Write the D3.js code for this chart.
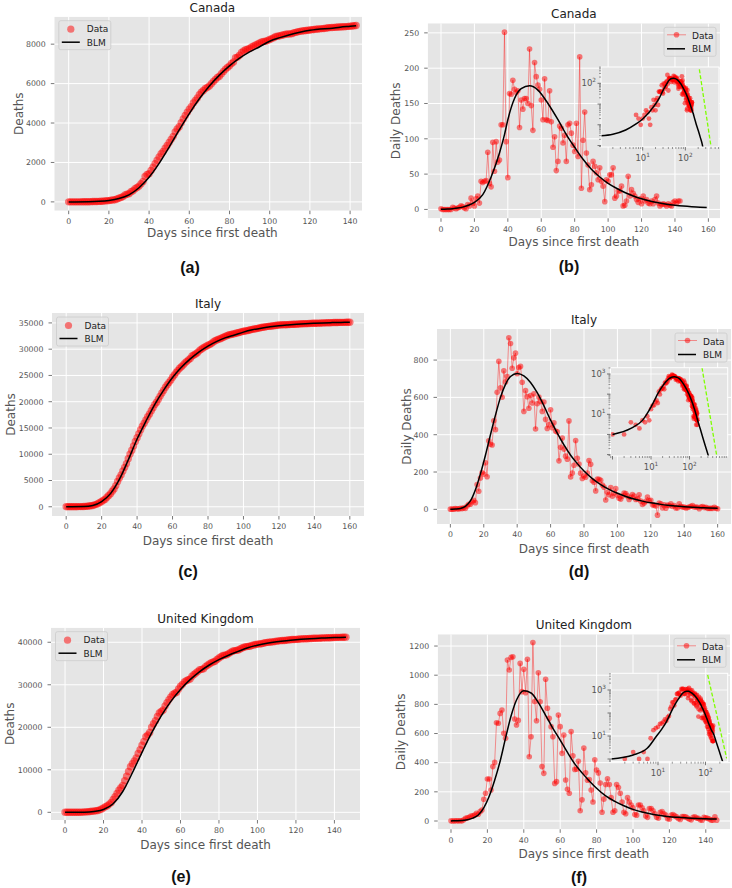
<!DOCTYPE html>
<html>
<head>
<meta charset="utf-8">
<script src="https://cdn.jsdelivr.net/npm/d3@7"></script>
<style>
  body { margin: 0; background: #fff; }
  svg { display: block; font-family: "DejaVu Sans", sans-serif; }
</style>
</head>
<body>
<script>
// ---- daily deaths, one value per day since first death ----
const canadaDaily = [1,0,0,0,0,0,0,3,2,1,
  2,3,5,4,2,1,7,5,16,9,
  5,15,19,9,40,38,40,41,81,37,
  32,95,54,96,67,70,120,120,251,96,
  45,164,163,183,170,166,168,116,155,142,
  157,157,150,227,147,112,208,188,176,170,
  155,127,185,127,126,168,124,88,103,55,
  68,118,115,94,105,68,120,122,108,91,
  82,122,75,216,30,98,138,80,63,28,
  35,68,61,52,42,59,40,33,11,42,
  40,49,49,59,16,19,26,26,33,5,
  6,12,47,19,28,23,19,14,10,15,
  8,19,12,14,9,8,12,8,14,19,
  9,5,7,8,7,5,8,6,5,10,12,9,12,12];

const italyDaily = [1,1,1,4,3,2,5,4,8,5,
  18,27,28,41,49,36,133,97,168,196,
  189,250,175,368,349,345,475,427,627,793,
  651,601,743,683,712,919,889,756,812,837,
  727,760,766,681,525,636,604,542,610,570,
  619,431,566,602,578,525,575,482,433,454,
  534,437,464,420,415,260,333,382,323,285,
  269,474,174,195,236,369,274,243,194,165,
  179,172,195,262,242,153,145,99,162,161,
  156,130,119,50,92,78,117,70,87,111,
  75,60,55,71,88,85,72,53,65,79,
  71,53,56,78,44,26,34,43,66,47,
  49,24,23,18,-31,34,30,8,24,6,
  23,21,30,15,21,7,8,30,15,12,
  12,7,9,13,17,20,11,13,11,3,
  13,15,9,11,5,5,5,5,11,6,
  3];

const ukDaily = [1,0,1,2,1,2,1,8,18,22,
  25,34,35,41,53,46,64,75,149,190,
  288,288,213,373,402,674,670,738,761,601,
  567,1104,1036,1122,1127,700,658,690,1081,887,
  1040,880,1109,441,578,1224,820,688,1017,818,
  373,327,972,773,704,647,578,258,270,727,
  647,464,590,281,217,190,613,448,354,355,
  410,70,145,500,331,280,285,213,130,420,
  350,330,260,60,150,250,290,250,160,60,
  70,250,230,190,130,60,50,160,130,110,
  90,45,40,110,110,90,70,35,25,85,
  85,70,50,25,20,60,65,50,40,15,
  12,40,45,35,28,15,10,30,30,28,
  20,12,8,25,28,20,18,8,6,25,
  22,18,14,6,6,28,6];

// ---- BLM fit as [day, value] ----
const canadaFitDaily = [[0,0.2],[1,0.29],[2,0.35],[4,0.56],[7,1.1],[10,1.9],[13,3.3],[16,5.5],[20,10],[25,21],
  [30,46],[35,80],[38,106],[40,127],[44,157],[48,171],[53,175],[58,169],[64,150],[70,127],[75,106],[80,88],
  [85,71],[90,57],[95,46],[100,37],[105,30],[110,24],[115,19],[120,15],[125,12],[130,9.5],[135,7.5],
  [140,6],[145,4.8],[150,3.9],[155,3.2],[159,2.6]];
const canadaFitTail = [[175,1.3],[200,0.54],[225,0.24],[250,0.11],[280,0.025]];
const canadaFitCum = [[0,0],[10,10],[15,30],[20,75],[25,170],[30,360],[35,720],[40,1250],[45,1950],[50,2780],
  [55,3650],[60,4480],[65,5230],[70,5880],[75,6430],[80,6900],[85,7290],[90,7610],[95,7870],[100,8150],
  [105,8330],[110,8480],[115,8600],[120,8700],[125,8770],[130,8790],[135,8860],[140,8910],[143,8940]];

const italyFitDaily = [[0,0.8],[1,1],[3,2],[6,5],[9,16],[12,45],[15,105],[18,190],[21,290],[24,400],[27,505],
  [30,600],[33,670],[36,712],[40,728],[44,715],[48,680],[52,625],[56,555],[60,478],[64,408],[68,345],
  [72,290],[76,245],[80,205],[85,165],[90,133],[95,107],[100,86],[105,69],[110,55],[115,44],[120,35],
  [125,28],[130,22],[135,18],[140,14],[145,11],[150,9],[155,7],[160,5.5]];
const italyFitTail = [[190,1.9],[230,0.55],[270,0.2],[320,0.07]];
const italyFitCum = [[0,0],[10,40],[15,250],[20,1000],[25,2500],[30,5200],[35,8900],[40,12900],[45,16300],
  [50,19500],[55,22200],[60,24600],[65,26550],[70,28150],[75,29500],[80,30600],[85,31500],[90,32200],
  [95,32700],[100,33250],[105,33680],[110,34000],[115,34250],[120,34450],[125,34600],[130,34730],
  [135,34840],[140,34930],[145,35000],[150,35060],[155,35100],[160,35130]];

const ukFitDaily = [[0,0.3],[1,1],[3,1.5],[6,3],[9,9],[12,20],[15,41],[18,90],[21,170],[24,280],[27,410],
  [30,570],[33,720],[36,830],[40,893],[44,878],[48,812],[52,725],[56,635],[60,555],[64,470],[68,392],
  [72,330],[76,275],[80,225],[85,172],[90,135],[95,105],[100,80],[105,62],[110,48],[115,38],[120,30],
  [125,25],[130,20],[135,17],[140,15],[146,13]];
const ukFitTail = [[170,5.1],[200,1.84],[230,0.76],[260,0.35]];
const ukFitCum = [[0,0],[10,40],[15,200],[20,650],[25,2000],[30,4900],[35,9300],[40,14100],[45,18700],
  [50,22700],[55,26100],[60,28900],[65,31200],[70,33100],[75,34650],[80,35900],[85,36950],[90,37850],
  [95,38700],[100,39300],[105,39750],[110,40100],[115,40380],[120,40600],[125,40780],[130,40910],
  [135,41010],[140,41100],[146,41180]];

// green dashed guide in the log-log insets, [day, value] end points
const canadaGuide = [[213,473],[400,0.088]];
const italyGuide = [[211,2050],[508,0.089]];
const ukGuide = [[111,4500],[279,1.07]];

// ---- tick values ----
const xTicks140 = [0,20,40,60,80,100,120,140];
const xTicks160 = [0,20,40,60,80,100,120,140,160];
const canadaCumTicks = [0,2000,4000,6000,8000];
const canadaDailyTicks = [0,50,100,150,200,250];
const italyCumTicks = [0,5000,10000,15000,20000,25000,30000,35000];
const italyDailyTicks = [0,200,400,600,800];
const ukCumTicks = [0,10000,20000,30000,40000];
const ukDailyTicks = [0,200,400,600,800,1000,1200];
const insetXTicks = [10,100];

const BG = '#E5E5E5', TXT = '#555555', RED = '#ff0000';

//  ----- layout: one entry per panel -----
const panels = [
  {id:'a', type:'cum', title:'Canada', letter:'(a)', daily:canadaDaily, fit:canadaFitCum,
   box:[54.3,370.5,16.7,210.7], clipX:362, xd:[-7.15,150.15], yd:[-447,9393],
   xt:xTicks140, yt:canadaCumTicks, ylab:'Deaths', ylabX:23, xlabY:236.5, letterPos:[190,273]},
  {id:'b', type:'daily', title:'Canada', letter:'(b)', daily:canadaDaily, fit:canadaFitDaily,
   tail:canadaFitTail, guide:canadaGuide,
   box:[427.7,720,23.3,218.3], xd:[-7.95,166.95], yd:[-12.55,263.55],
   xt:xTicks160, yt:canadaDailyTicks, ylab:'Daily Deaths', ylabX:399.5, xlabY:246, letterPos:[569,272],
   inset:{box:[601,719,67,147], xd:[1.055,615], yd:[0.085,611], yLab:[100]}},
  {id:'c', type:'cum', title:'Italy', letter:'(c)', daily:italyDaily, fit:italyFitCum,
   box:[52,364,313,516], xd:[-8,168], yd:[-1756,36888],
   xt:xTicks160, yt:italyCumTicks, ylab:'Deaths', ylabX:15, xlabY:545, letterPos:[188,577]},
  {id:'d', type:'daily', title:'Italy', letter:'(d)', daily:italyDaily, fit:italyFitDaily,
   tail:italyFitTail, guide:italyGuide,
   box:[437,731,329,524], xd:[-8,168], yd:[-78.5,966.5],
   xt:xTicks160, yt:italyDailyTicks, ylab:'Daily Deaths', ylabX:410.5, xlabY:552.5, letterPos:[579,577],
   inset:{box:[610.5,727.7,367.7,456], xd:[0.887,981], yd:[0.0853,2053], yLab:[1000,10]}},
  {id:'e', type:'cum', title:'United Kingdom', letter:'(e)', daily:ukDaily, fit:ukFitCum,
   box:[51,360,627.7,820], xd:[-7.3,153.3], yd:[-1805,43423],
   xt:xTicks140, yt:ukCumTicks, ylab:'Deaths', ylabX:13.5, xlabY:849, letterPos:[181,882]},
  {id:'f', type:'daily', title:'United Kingdom', letter:'(f)', daily:ukDaily, fit:ukFitDaily,
   tail:ukFitTail, guide:ukGuide,
   box:[437.7,730,634.3,829.3], xd:[-7.3,153.3], yd:[-56.9,1280.5],
   xt:xTicks140, yt:ukDailyTicks, ylab:'Daily Deaths', ylabX:404.5, xlabY:857.5, letterPos:[579,883],
   inset:{box:[611,727.7,673.3,761.7], xd:[1.025,293], yd:[0.764,5320], yLab:[1000,10]}}
];

const svg = d3.select('body').append('svg')
  .attr('width', 732)
  .attr('height', 888);
const defs = svg.append('defs');

function drawLegend(g, lx, ly, type) {
  g.append('rect')
    .attr('x', lx).attr('y', ly).attr('width', 52).attr('height', 29).attr('rx', 2)
    .attr('fill', BG).attr('fill-opacity', 0.8)
    .attr('stroke', '#cccccc').attr('stroke-width', 0.8);
  if (type === 'cum') {
    g.append('circle').attr('cx', lx + 12).attr('cy', ly + 8.5).attr('r', 3.6)
      .attr('fill', RED).attr('fill-opacity', 0.5);
  } else {
    g.append('line').attr('x1', lx + 3).attr('x2', lx + 22).attr('y1', ly + 7.5).attr('y2', ly + 7.5)
      .attr('stroke', RED).attr('stroke-opacity', 0.4).attr('stroke-width', 1);
    g.append('circle').attr('cx', lx + 12.5).attr('cy', ly + 7.5).attr('r', 2.8)
      .attr('fill', RED).attr('fill-opacity', 0.5);
  }
  g.append('line').attr('x1', lx + 3).attr('x2', lx + 21).attr('y1', ly + 21.5).attr('y2', ly + 21.5)
    .attr('stroke', '#000').attr('stroke-width', 1.5);
  g.append('text').attr('x', lx + 28).attr('y', ly + 11.5).text('Data')
    .attr('font-size', 9).attr('fill', '#222');
  g.append('text').attr('x', lx + 28).attr('y', ly + 25).text('BLM')
    .attr('font-size', 9).attr('fill', '#222');
}

function powLabel(sel, v) {
  const e = Math.round(Math.log10(v));
  sel.append('tspan').text('10');
  sel.append('tspan').text(e).attr('font-size', 5.8).attr('dy', -4);
}

function drawInset(p) {
  const s = p.inset;
  const [x0, x1, y0, y1] = s.box;
  const x = d3.scaleLog().domain(s.xd).range([x0, x1]);
  const y = d3.scaleLog().domain(s.yd).range([y1, y0]);
  const g = svg.append('g');
  const cid = 'clip-in-' + p.id;
  defs.append('clipPath').attr('id', cid).append('rect')
    .attr('x', x0).attr('y', y0).attr('width', x1 - x0).attr('height', y1 - y0);

  g.append('rect').attr('x', x0).attr('y', y0).attr('width', x1 - x0).attr('height', y1 - y0)
    .attr('fill', BG);
  const plot = g.append('g').attr('clip-path', `url(#${cid})`);

  // grid at labelled decades
  plot.selectAll('.gx').data(insetXTicks).join('line')
    .attr('x1', d => x(d)).attr('x2', d => x(d)).attr('y1', y0).attr('y2', y1)
    .attr('stroke', '#fff').attr('stroke-width', 0.8);
  plot.selectAll('.gy').data(s.yLab).join('line')
    .attr('x1', x0).attr('x2', x1).attr('y1', d => y(d)).attr('y2', d => y(d))
    .attr('stroke', '#fff').attr('stroke-width', 0.8);

  const pts = p.daily.map((v, i) => [i, v]).filter(d => d[0] > 0 && d[1] > 0);
  plot.selectAll('.ip').data(pts).join('circle')
    .attr('cx', d => x(d[0])).attr('cy', d => y(d[1])).attr('r', 2.4)
    .attr('fill', RED).attr('fill-opacity', 0.55);

  const fit = p.fit.concat(p.tail).filter(d => d[0] > 0);
  plot.append('path')
    .attr('d', d3.line().x(d => x(d[0])).y(d => y(d[1])).curve(d3.curveMonotoneX)(fit))
    .attr('fill', 'none').attr('stroke', '#000').attr('stroke-width', 1.5);

  plot.append('path')
    .attr('d', d3.line().x(d => x(d[0])).y(d => y(d[1]))(p.guide))
    .attr('fill', 'none').attr('stroke', '#7FFF00').attr('stroke-width', 1.3)
    .attr('stroke-dasharray', '4,2');

  g.append('rect').attr('x', x0).attr('y', y0).attr('width', x1 - x0).attr('height', y1 - y0)
    .attr('fill', 'none').attr('stroke', '#fff').attr('stroke-width', 1);

  // major and minor ticks
  const minX = [], minY = [], majX = [], majY = [];
  for (let k = -3; k <= 4; k++) {
    for (let m = 1; m <= 9; m++) {
      const v = m * Math.pow(10, k);
      if (v >= s.xd[0] && v <= s.xd[1]) (m === 1 ? majX : minX).push(v);
      if (v >= s.yd[0] && v <= s.yd[1]) (m === 1 ? majY : minY).push(v);
    }
  }
  g.selectAll('.mx').data(minX).join('line')
    .attr('x1', d => x(d)).attr('x2', d => x(d)).attr('y1', y1).attr('y2', y1 + 2)
    .attr('stroke', TXT).attr('stroke-width', 0.6);
  g.selectAll('.Mx').data(majX).join('line')
    .attr('x1', d => x(d)).attr('x2', d => x(d)).attr('y1', y1).attr('y2', y1 + 3.5)
    .attr('stroke', TXT).attr('stroke-width', 0.8);
  g.selectAll('.my').data(minY).join('line')
    .attr('x1', x0 - 2).attr('x2', x0).attr('y1', d => y(d)).attr('y2', d => y(d))
    .attr('stroke', TXT).attr('stroke-width', 0.6);
  g.selectAll('.My').data(majY).join('line')
    .attr('x1', x0 - 3.5).attr('x2', x0).attr('y1', d => y(d)).attr('y2', d => y(d))
    .attr('stroke', TXT).attr('stroke-width', 0.8);

  insetXTicks.forEach(v => {
    g.append('text').attr('x', x(v)).attr('y', y1 + 14).attr('text-anchor', 'middle')
      .attr('font-size', 8.5).attr('fill', TXT).call(powLabel, v);
  });
  s.yLab.forEach(v => {
    g.append('text').attr('x', x0 - 5).attr('y', y(v) + 3).attr('text-anchor', 'end')
      .attr('font-size', 8.5).attr('fill', TXT).call(powLabel, v);
  });
}

function drawPanel(p) {
  const [x0, x1, y0, y1] = p.box;
  const x = d3.scaleLinear().domain(p.xd).range([x0, x1]);
  const y = d3.scaleLinear().domain(p.yd).range([y1, y0]);
  const right = p.clipX || x1;
  const g = svg.append('g');
  const cid = 'clip-' + p.id;
  defs.append('clipPath').attr('id', cid).append('rect')
    .attr('x', x0).attr('y', y0).attr('width', right - x0).attr('height', y1 - y0);

  const plot = g.append('g').attr('clip-path', `url(#${cid})`);
  plot.append('rect').attr('x', x0).attr('y', y0).attr('width', x1 - x0).attr('height', y1 - y0)
    .attr('fill', BG);

  // grid
  plot.selectAll('.gx').data(p.xt).join('line')
    .attr('x1', d => x(d)).attr('x2', d => x(d)).attr('y1', y0).attr('y2', y1)
    .attr('stroke', '#fff').attr('stroke-width', 1);
  plot.selectAll('.gy').data(p.yt).join('line')
    .attr('x1', x0).attr('x2', x1).attr('y1', d => y(d)).attr('y2', d => y(d))
    .attr('stroke', '#fff').attr('stroke-width', 1);

  // data
  const fitLine = d3.line().x(d => x(d[0])).y(d => y(d[1])).curve(d3.curveMonotoneX);
  if (p.type === 'cum') {
    const cum = Array.from(d3.cumsum(p.daily));
    plot.selectAll('.pt').data(cum).join('circle')
      .attr('cx', (d, i) => x(i)).attr('cy', d => y(d)).attr('r', 3.7)
      .attr('fill', RED).attr('fill-opacity', 0.5);
  } else {
    plot.append('path')
      .attr('d', d3.line().x((d, i) => x(i)).y(d => y(d))(p.daily))
      .attr('fill', 'none').attr('stroke', RED).attr('stroke-opacity', 0.4).attr('stroke-width', 1);
    plot.selectAll('.pt').data(p.daily).join('circle')
      .attr('cx', (d, i) => x(i)).attr('cy', d => y(d)).attr('r', 2.8)
      .attr('fill', RED).attr('fill-opacity', 0.5);
  }
  plot.append('path').attr('d', fitLine(p.fit))
    .attr('fill', 'none').attr('stroke', '#000').attr('stroke-width', 1.5);

  // ticks
  g.selectAll('.tx').data(p.xt).join('line')
    .attr('x1', d => x(d)).attr('x2', d => x(d)).attr('y1', y1).attr('y2', y1 + 3.5)
    .attr('stroke', TXT).attr('stroke-width', 0.8);
  g.selectAll('.lx').data(p.xt).join('text')
    .attr('x', d => x(d)).attr('y', y1 + 13.3).attr('text-anchor', 'middle')
    .attr('font-size', 7.8).attr('fill', TXT).text(d => d);
  g.selectAll('.ty').data(p.yt).join('line')
    .attr('x1', x0 - 3.5).attr('x2', x0).attr('y1', d => y(d)).attr('y2', d => y(d))
    .attr('stroke', TXT).attr('stroke-width', 0.8);
  g.selectAll('.ly').data(p.yt).join('text')
    .attr('x', x0 - 8.5).attr('y', d => y(d) + 2.8).attr('text-anchor', 'end')
    .attr('font-size', 7.8).attr('fill', TXT).text(d => d);

  // legend
  if (p.type === 'cum') drawLegend(g, x0 + 4.5, y0 + 4, 'cum');
  else drawLegend(g, x1 - 56, y0 + 4, 'daily');

  // texts
  g.append('text').attr('x', (x0 + x1) / 2).attr('y', y0 - 5).attr('text-anchor', 'middle')
    .attr('font-size', 12).attr('fill', '#222').text(p.title);
  g.append('text').attr('x', (x0 + x1) / 2).attr('y', p.xlabY).attr('text-anchor', 'middle')
    .attr('font-size', 12).attr('fill', TXT).text('Days since first death');
  g.append('text')
    .attr('transform', `translate(${p.ylabX}, ${(y0 + y1) / 2}) rotate(-90)`)
    .attr('text-anchor', 'middle').attr('font-size', 12).attr('fill', TXT).text(p.ylab);
  g.append('text').attr('x', p.letterPos[0]).attr('y', p.letterPos[1]).attr('text-anchor', 'middle')
    .attr('font-family', '"Liberation Sans", Arial, sans-serif').attr('font-weight', 'bold')
    .attr('font-size', 16).attr('fill', '#111').text(p.letter);

  if (p.inset) drawInset(p);
}

panels.forEach(drawPanel);
</script>
</body>
</html>
